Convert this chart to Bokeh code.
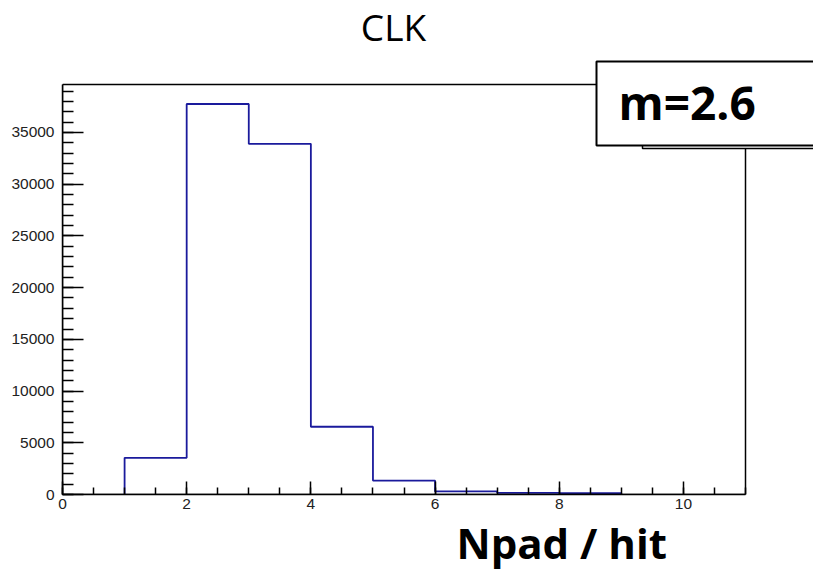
from bokeh.plotting import figure
from bokeh.models import Label, BoxAnnotation, FixedTicker, Range1d, Title
from bokeh.embed import file_html
from bokeh.resources import INLINE

# ---- data ----
bin_edges = [0, 1, 2, 3, 4, 5, 6, 7, 8, 9, 10, 11]
counts = [0, 3550, 37750, 33900, 6550, 1350, 300, 150, 120, 0, 0]
title_text = "CLK"
x_title = "Npad / hit"
mean_text = "m=2.6"
x_major = [0, 2, 4, 6, 8, 10]
x_minor = [0, 0.5, 1, 1.5, 2, 2.5, 3, 3.5, 4, 4.5, 5, 5.5, 6, 6.5, 7, 7.5, 8, 8.5, 9, 9.5, 10, 10.5, 11]
y_major = [0, 5000, 10000, 15000, 20000, 25000, 30000, 35000]
y_minor = [i * 1000 for i in range(40)]

# ---- layout (pixels) ----
W, H = 813, 575
F_LEFT, F_RIGHT, F_TOP, F_BOTTOM = 62, 745, 84, 494   # ROOT frame box on the canvas

x_lo, x_hi_hist = bin_edges[0], bin_edges[-1]
y_top = max(counts) * 1.05
# plotting area spans to the canvas right/top so annotations outside the ROOT frame are not clipped
x_hi = x_lo + (x_hi_hist - x_lo) * (W - F_LEFT) / (F_RIGHT - F_LEFT)
y_hi = y_top * F_BOTTOM / (F_BOTTOM - F_TOP)

# histogram outline (ROOT style step), from first to last non-empty bin
nz = [i for i, c in enumerate(counts) if c > 0]
first, last = nz[0], nz[-1]
xs = [bin_edges[first]]
ys = [0]
for i in range(first, last + 1):
    xs += [bin_edges[i], bin_edges[i + 1]]
    ys += [counts[i], counts[i]]
xs.append(bin_edges[last + 1])
ys.append(0)

p = figure(width=W, height=H, output_backend="svg", toolbar_location=None,
           x_range=Range1d(x_lo, x_hi), y_range=Range1d(0, y_hi),
           min_border_left=F_LEFT, min_border_right=0, min_border_top=0,
           min_border_bottom=H - F_BOTTOM)
p.grid.visible = False
p.background_fill_color = "white"
p.border_fill_color = "white"
p.outline_line_color = None

p.line(xs, ys, line_color="#1a1a9c", line_width=1.8)

for ax in (p.xaxis[0], p.yaxis[0]):
    ax.axis_line_color = "black"
    ax.axis_line_width = 1.5
    ax.major_tick_line_color = "black"
    ax.minor_tick_line_color = "black"
    ax.major_tick_line_width = 1.5
    ax.minor_tick_line_width = 1.5
    ax.major_tick_out = 0
    ax.minor_tick_out = 0
    ax.major_label_text_font = "Liberation Sans"
    ax.major_label_text_font_size = "15.5px"
    ax.major_label_text_color = "#222222"

p.xaxis.bounds = (x_lo, x_hi_hist)
p.yaxis.bounds = (0, y_top)
p.xaxis.ticker = FixedTicker(ticks=x_major, minor_ticks=x_minor)
p.yaxis.ticker = FixedTicker(ticks=y_major, minor_ticks=y_minor)
p.xaxis.major_tick_in = 13
p.xaxis.minor_tick_in = 7
p.yaxis.major_tick_in = 21
p.yaxis.minor_tick_in = 11
p.xaxis.major_label_standoff = 4
p.yaxis.major_label_standoff = 8

# ROOT frame
frame = BoxAnnotation(left=x_lo, right=x_hi_hist, bottom=0, top=y_top,
                      fill_color=None, line_color="black", line_alpha=1.0, line_width=1.5)
p.add_layout(frame)

# stats box (behind) and mean box, in screen units relative to the plotting area
fx = lambda X: X - F_LEFT
fy = lambda Y: F_BOTTOM - Y
stats_box = BoxAnnotation(left=fx(642), right=fx(W + 20), top=fy(75), bottom=fy(148),
                          left_units="screen", right_units="screen",
                          top_units="screen", bottom_units="screen",
                          fill_color="white", fill_alpha=1.0,
                          line_color="black", line_alpha=1.0, line_width=1.5)
mean_box = BoxAnnotation(left=fx(596), right=fx(W + 20), top=fy(61), bottom=fy(145),
                         left_units="screen", right_units="screen",
                         top_units="screen", bottom_units="screen",
                         fill_color="white", fill_alpha=1.0,
                         line_color="black", line_alpha=1.0, line_width=2)
p.add_layout(stats_box)
p.add_layout(mean_box)

p.add_layout(Label(x=fx(618), y=fy(101), x_units="screen", y_units="screen", text=mean_text,
                   text_font="Open Sans", text_font_style="bold", text_font_size="46px",
                   text_align="left", text_baseline="alphabetic", text_color="black"))
p.add_layout(Label(x=fx(393), y=fy(26), x_units="screen", y_units="screen", text=title_text,
                   text_font="Open Sans", text_font_size="37px",
                   text_align="center", text_baseline="alphabetic", text_color="black"))

p.add_layout(Title(text=x_title, align="left", offset=456 - F_LEFT, standoff=0,
                   text_font="Open Sans", text_font_style="bold", text_font_size="42px",
                   text_color="black"), "below")

open("out.html", "w").write(file_html(p, INLINE))
